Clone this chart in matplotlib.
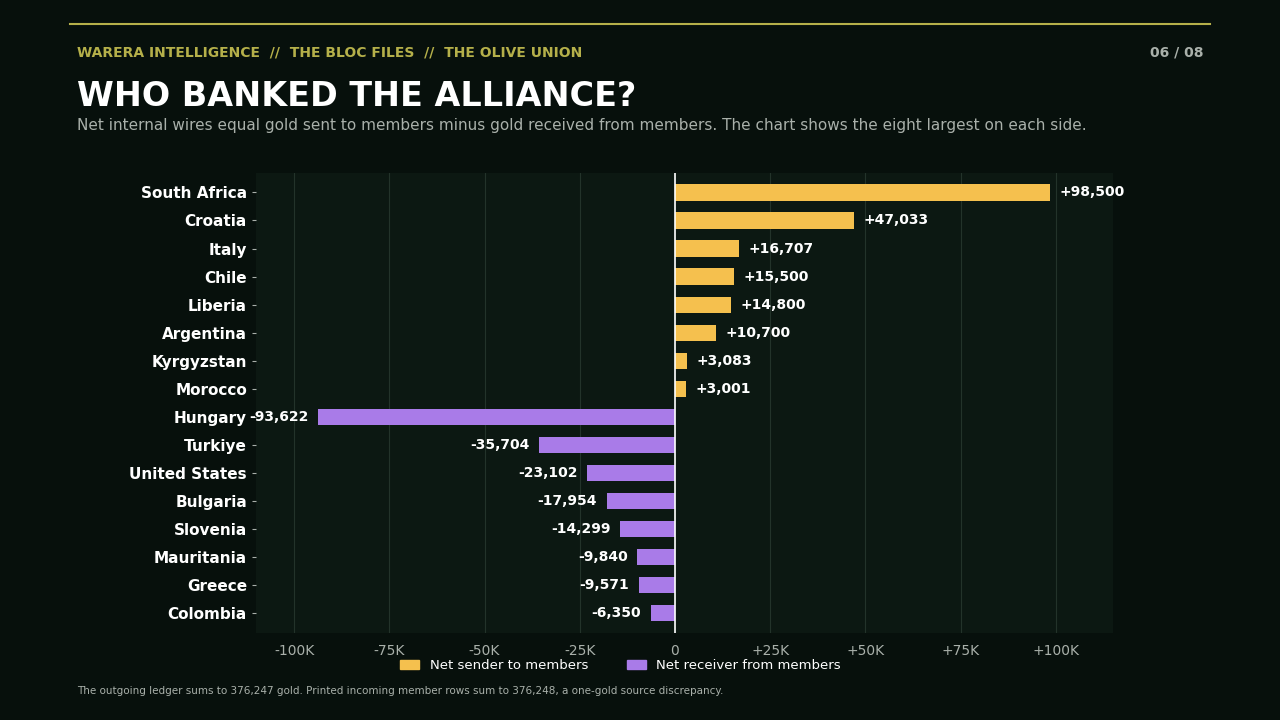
import matplotlib
matplotlib.use("Agg")
import matplotlib.pyplot as plt
from matplotlib.patches import Patch

# -----------------------------
# Data
# -----------------------------
countries = ["South Africa", "Croatia", "Italy", "Chile", "Liberia", "Argentina",
             "Kyrgyzstan", "Morocco", "Hungary", "Turkiye", "United States",
             "Bulgaria", "Slovenia", "Mauritania", "Greece", "Colombia"]
net_gold = [98500, 47033, 16707, 15500, 14800, 10700, 3083, 3001,
            -93622, -35704, -23102, -17954, -14299, -9840, -9571, -6350]
tick_vals = [-100000, -75000, -50000, -25000, 0, 25000, 50000, 75000, 100000]
tick_labels = ["-100K", "-75K", "-50K", "-25K", "0", "+25K", "+50K", "+75K", "+100K"]

# -----------------------------
# Style
# -----------------------------
bg = "#07100c"
panel = "#0c1812"
olive = "#b5b04a"
sender_col = "#f5c04e"
receiver_col = "#a97be8"
grey = "#a9b0aa"

fig = plt.figure(figsize=(12.8, 7.2), dpi=100, facecolor=bg)
ax = fig.add_axes([0.2, 0.121, 0.6695, 0.639])
ax.set_facecolor(panel)

ypos = list(range(len(countries)))
colors = [sender_col if v > 0 else receiver_col for v in net_gold]
ax.barh(ypos, net_gold, height=0.58, color=colors, zorder=3)
ax.invert_yaxis()
ax.set_xlim(-110000, 115000)
ax.set_ylim(len(countries) - 0.3, -0.7)
ax.axvline(0, color="white", lw=1.2, zorder=4)

for y, v in zip(ypos, net_gold):
    if v > 0:
        ax.text(v + 2500, y, f"+{v:,}", va="center", ha="left", color="white",
                fontsize=10, fontweight="bold", zorder=5)
    else:
        ax.text(v - 2500, y, f"-{abs(v):,}", va="center", ha="right", color="white",
                fontsize=10, fontweight="bold", zorder=5)

ax.set_yticks(ypos)
ax.set_yticklabels(countries, color="white", fontsize=11, fontweight="bold")
ax.set_xticks(tick_vals)
ax.set_xticklabels(tick_labels, color=grey, fontsize=10)
ax.tick_params(axis="x", length=0, pad=8)
ax.tick_params(axis="y", length=3, color=grey)
ax.grid(axis="x", color="#23332a", lw=0.8, zorder=0)
for s in ax.spines.values():
    s.set_visible(False)

# -----------------------------
# Legend
# -----------------------------
handles = [Patch(color=sender_col, label="Net sender to members"),
           Patch(color=receiver_col, label="Net receiver from members")]
fig.legend(handles=handles, loc="center", bbox_to_anchor=(0.485, 0.076), ncol=2,
           frameon=False, labelcolor="white", fontsize=9.5, handlelength=1.4,
           handleheight=0.7, columnspacing=3)

# -----------------------------
# Header / footer
# -----------------------------
fig.add_artist(plt.Line2D([0.055, 0.945], [0.966, 0.966], color=olive, lw=1.5))
fig.text(0.06, 0.927, "WARERA INTELLIGENCE  //  THE BLOC FILES  //  THE OLIVE UNION",
         color=olive, fontsize=10, fontweight="bold", va="center")
fig.text(0.94, 0.927, "06 / 08", color=grey, fontsize=10, fontweight="bold",
         va="center", ha="right")
fig.text(0.06, 0.866, "WHO BANKED THE ALLIANCE?", color="white", fontsize=24,
         fontweight="bold", va="center")
fig.text(0.06, 0.826, "Net internal wires equal gold sent to members minus gold received "
         "from members. The chart shows the eight largest on each side.",
         color=grey, fontsize=11, va="center")
fig.text(0.06, 0.04, "The outgoing ledger sums to 376,247 gold. Printed incoming member rows "
         "sum to 376,248, a one-gold source discrepancy.", color=grey, fontsize=7.5,
         va="center")

fig.savefig("out.png", dpi=100, facecolor=bg)
